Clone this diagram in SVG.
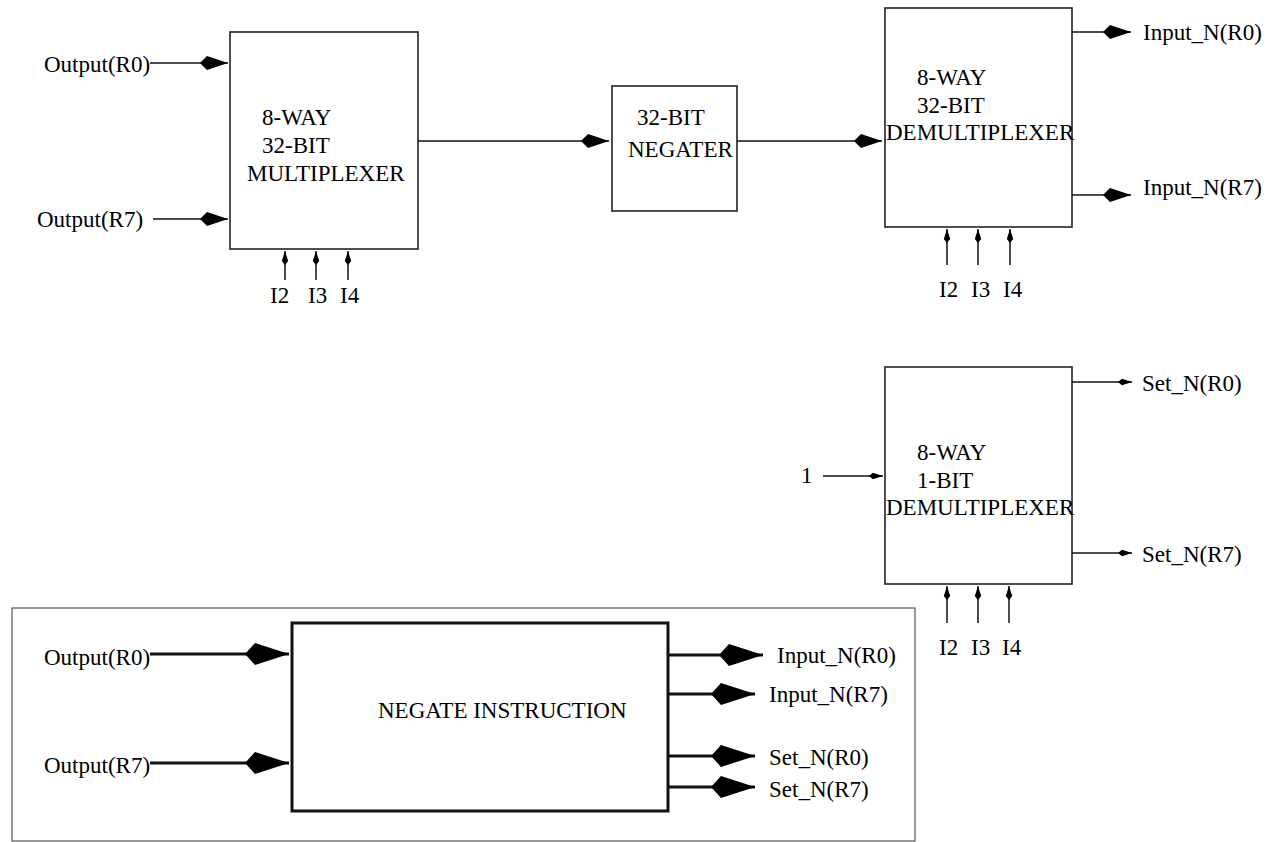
<svg xmlns="http://www.w3.org/2000/svg" width="1275" height="842" viewBox="0 0 1275 842">
<style>
text{font-family:"Liberation Serif","Times New Roman",serif;font-size:23px;fill:#000}
.box{fill:#fff;stroke:#222;stroke-width:1.6}
.boxb{fill:#fff;stroke:#111;stroke-width:3}
.frame{fill:none;stroke:#555;stroke-width:1.2}
.w{fill:none;stroke:#111;stroke-width:1.5}
.wb{fill:none;stroke:#111;stroke-width:2.8}
</style>
<defs>
<marker id="ah" markerUnits="userSpaceOnUse" markerWidth="30" markerHeight="16" viewBox="0 -8 30 16" refX="28" refY="0" orient="auto"><path d="M0,0 L7,-7 L28,0 L7,7 Z" fill="#000"/></marker>
<marker id="ahb" markerUnits="userSpaceOnUse" markerWidth="46" markerHeight="24" viewBox="0 -12 46 24" refX="44" refY="0" orient="auto"><path d="M0,0 L10,-11 L44,0 L10,11 Z" fill="#000"/></marker>
<marker id="ahs" markerUnits="userSpaceOnUse" markerWidth="16" markerHeight="8" viewBox="0 -4 16 8" refX="14" refY="0" orient="auto"><path d="M0,0 L4,-3.2 L14,0 L4,3.2 Z" fill="#000"/></marker>
</defs>

<g id="mux">
<rect class="box" x="230" y="32" width="188" height="217"/>
<text x="262" y="125">8-WAY</text>
<text x="262" y="153">32-BIT</text>
<text x="247" y="181">MULTIPLEXER</text>
</g>
<g id="negater">
<rect class="box" x="612" y="86" width="125" height="125"/>
<text x="637" y="125">32-BIT</text>
<text x="628" y="157">NEGATER</text>
</g>
<g id="demux32">
<rect class="box" x="885" y="8" width="187" height="219"/>
<text x="917" y="85">8-WAY</text>
<text x="917" y="113">32-BIT</text>
<text x="886" y="140">DEMULTIPLEXER</text>
</g>
<g id="demux1">
<rect class="box" x="885" y="367" width="187" height="217"/>
<text x="917" y="460">8-WAY</text>
<text x="917" y="488">1-BIT</text>
<text x="886" y="515">DEMULTIPLEXER</text>
</g>
<g id="negate-frame">
<rect class="frame" x="12" y="608" width="903" height="233"/>
</g>
<g id="negate-instruction">
<rect class="boxb" x="292" y="623" width="376" height="188"/>
<text x="378" y="718">NEGATE INSTRUCTION</text>
</g>

<g id="labels">
<text x="44" y="72">Output(R0)</text>
<text x="37" y="227">Output(R7)</text>
<text x="270" y="303">I2</text>
<text x="308" y="303">I3</text>
<text x="340" y="303">I4</text>
<text x="1143" y="40">Input_N(R0)</text>
<text x="1143" y="195">Input_N(R7)</text>
<text x="939" y="297">I2</text>
<text x="971" y="297">I3</text>
<text x="1003" y="297">I4</text>
<text x="801" y="483">1</text>
<text x="1142" y="391">Set_N(R0)</text>
<text x="1142" y="562">Set_N(R7)</text>
<text x="939" y="655">I2</text>
<text x="971" y="655">I3</text>
<text x="1002" y="655">I4</text>
<text x="44" y="665">Output(R0)</text>
<text x="44" y="773">Output(R7)</text>
<text x="777" y="663">Input_N(R0)</text>
<text x="769" y="702">Input_N(R7)</text>
<text x="769" y="765">Set_N(R0)</text>
<text x="769" y="797">Set_N(R7)</text>
</g>

<g id="connectors">
<line class="w" x1="150" y1="63" x2="228" y2="63" marker-end="url(#ah)"/>
<line class="w" x1="153" y1="219" x2="228" y2="219" marker-end="url(#ah)"/>
<line class="w" x1="285" y1="280" x2="285" y2="251" marker-end="url(#ahs)"/>
<line class="w" x1="316" y1="280" x2="316" y2="251" marker-end="url(#ahs)"/>
<line class="w" x1="348" y1="280" x2="348" y2="251" marker-end="url(#ahs)"/>
<line class="w" x1="418" y1="141" x2="609" y2="141" marker-end="url(#ah)"/>
<line class="w" x1="737" y1="141" x2="882" y2="141" marker-end="url(#ah)"/>
<line class="w" x1="1072" y1="32" x2="1131" y2="32" marker-end="url(#ah)"/>
<line class="w" x1="1072" y1="195" x2="1131" y2="195" marker-end="url(#ah)"/>
<line class="w" x1="947" y1="265" x2="947" y2="229" marker-end="url(#ahs)"/>
<line class="w" x1="978" y1="265" x2="978" y2="229" marker-end="url(#ahs)"/>
<line class="w" x1="1010" y1="265" x2="1010" y2="229" marker-end="url(#ahs)"/>
<line class="w" x1="823" y1="476" x2="883" y2="476" marker-end="url(#ahs)"/>
<line class="w" x1="1072" y1="382" x2="1132" y2="382" marker-end="url(#ahs)"/>
<line class="w" x1="1072" y1="553" x2="1132" y2="553" marker-end="url(#ahs)"/>
<line class="w" x1="947" y1="623" x2="947" y2="586" marker-end="url(#ahs)"/>
<line class="w" x1="978" y1="623" x2="978" y2="586" marker-end="url(#ahs)"/>
<line class="w" x1="1009" y1="623" x2="1009" y2="586" marker-end="url(#ahs)"/>
<line class="wb" x1="150" y1="654" x2="289" y2="654" marker-end="url(#ahb)"/>
<line class="wb" x1="150" y1="763" x2="289" y2="763" marker-end="url(#ahb)"/>
<line class="wb" x1="668" y1="655" x2="763" y2="655" marker-end="url(#ahb)"/>
<line class="wb" x1="668" y1="694" x2="755" y2="694" marker-end="url(#ahb)"/>
<line class="wb" x1="668" y1="756" x2="755" y2="756" marker-end="url(#ahb)"/>
<line class="wb" x1="668" y1="787" x2="755" y2="787" marker-end="url(#ahb)"/>
</g>
</svg>
